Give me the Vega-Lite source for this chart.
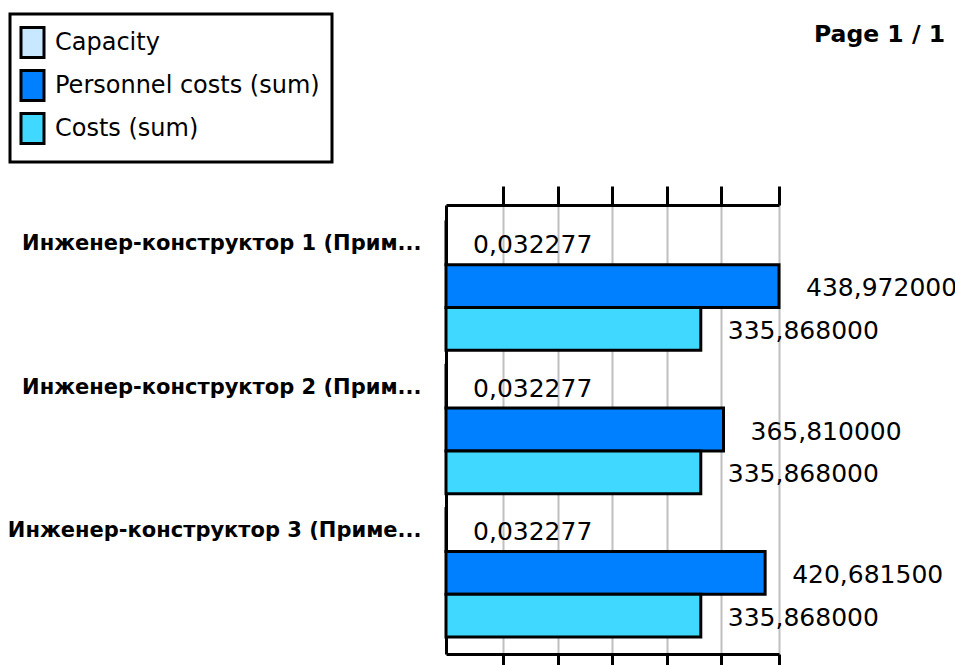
{
  "$schema": "https://vega.github.io/schema/vega-lite/v6.json",
  "autosize": "none",
  "width": 333,
  "height": 449,
  "padding": {"left": 446, "top": 205, "right": 176, "bottom": 11},
  "background": "white",
  "config": {
    "locale": {"number": {"decimal": ",", "thousands": ".", "grouping": [3], "currency": ["", ""]}},
    "view": {"stroke": null},
    "font": "DejaVu Sans"
  },
  "title": {
    "text": "Page 1 / 1",
    "anchor": "end",
    "frame": "group",
    "dx": 166,
    "offset": -34,
    "font": "DejaVu Sans",
    "fontSize": 23.5,
    "fontWeight": "bold",
    "color": "black"
  },
  "data": {
    "values": [
      {"role": "Инженер-конструктор 1 (Прим...", "series": "Capacity", "value": 0.032277},
      {"role": "Инженер-конструктор 1 (Прим...", "series": "Personnel costs (sum)", "value": 438.972},
      {"role": "Инженер-конструктор 1 (Прим...", "series": "Costs (sum)", "value": 335.868},
      {"role": "Инженер-конструктор 2 (Прим...", "series": "Capacity", "value": 0.032277},
      {"role": "Инженер-конструктор 2 (Прим...", "series": "Personnel costs (sum)", "value": 365.81},
      {"role": "Инженер-конструктор 2 (Прим...", "series": "Costs (sum)", "value": 335.868},
      {"role": "Инженер-конструктор 3 (Приме...", "series": "Capacity", "value": 0.032277},
      {"role": "Инженер-конструктор 3 (Приме...", "series": "Personnel costs (sum)", "value": 420.6815},
      {"role": "Инженер-конструктор 3 (Приме...", "series": "Costs (sum)", "value": 335.868}
    ]
  },
  "encoding": {
    "y": {
      "field": "role",
      "type": "nominal",
      "sort": null,
      "scale": {"paddingInner": 0.104, "paddingOuter": 0.118},
      "axis": {
        "title": null,
        "ticks": false,
        "domainColor": "black",
        "domainWidth": 3,
        "labelFont": "DejaVu Sans",
        "labelFontWeight": "bold",
        "labelFontSize": 21,
        "labelColor": "black",
        "labelPadding": 25,
        "labelOffset": -42,
        "labelLimit": 500,
        "grid": false
      }
    },
    "yOffset": {
      "field": "series",
      "type": "nominal",
      "sort": ["Capacity", "Personnel costs (sum)", "Costs (sum)"],
      "scale": {"paddingInner": 0, "paddingOuter": 0}
    },
    "x": {
      "field": "value",
      "type": "quantitative",
      "scale": {"domain": [0, 438.972], "nice": false, "zero": true},
      "axis": null
    }
  },
  "layer": [
    {
      "mark": {"type": "bar", "stroke": "black", "strokeWidth": 3, "opacity": 1},
      "encoding": {
        "x": {
          "field": "value",
          "type": "quantitative",
          "axis": {
            "orient": "bottom",
            "title": null,
            "labels": false,
            "values": [75.1, 147.3, 219.2, 291.3, 362.5, 438.972],
            "tickSize": 14,
            "tickWidth": 3,
            "tickColor": "black",
            "domainColor": "black",
            "domainWidth": 3,
            "grid": true,
            "gridColor": "#c0c0c0",
            "gridWidth": 2,
            "gridOpacity": 1
          }
        },
        "x2": {"datum": 0},
        "color": {
          "field": "series",
          "type": "nominal",
          "sort": ["Capacity", "Personnel costs (sum)", "Costs (sum)"],
          "scale": {
            "domain": ["Capacity", "Personnel costs (sum)", "Costs (sum)"],
            "range": ["#c8e8ff", "#0080ff", "#40d8ff"]
          },
          "legend": {
            "orient": "none",
            "legendX": -436,
            "legendY": -191,
            "title": null,
            "direction": "vertical",
            "strokeColor": "black",
            "fillColor": "white",
            "padding": 12,
            "rowPadding": 0,
            "symbolOffset": -6,
            "symbolType": "M-0.767,-1H0.767V1H-0.767Z",
            "symbolSize": 900,
            "symbolStrokeColor": "black",
            "symbolStrokeWidth": 3,
            "symbolOpacity": 1,
            "labelFont": "DejaVu Sans",
            "labelFontSize": 24,
            "labelColor": "black",
            "labelOffset": 6,
            "labelLimit": 400,
            "encode": {"legend": {"update": {"strokeWidth": {"value": 3}}}}
          }
        }
      }
    },
    {
      "mark": {"type": "text", "align": "left", "baseline": "middle", "dx": 27, "dy": 2, "fontSize": 25, "font": "DejaVu Sans", "color": "black"},
      "encoding": {
        "text": {"field": "value", "type": "quantitative", "format": ".6f"}
      }
    },
    {
      "mark": {"type": "rule", "opacity": 0},
      "encoding": {
        "x": {
          "datum": 0,
          "type": "quantitative",
          "axis": {
            "orient": "top",
            "title": null,
            "labels": false,
            "values": [75.1, 147.3, 219.2, 291.3, 362.5, 438.972],
            "tickSize": 19,
            "tickWidth": 3,
            "tickColor": "black",
            "domainColor": "black",
            "domainWidth": 3,
            "grid": false
          }
        }
      }
    }
  ],
  "resolve": {"axis": {"x": "independent"}}
}
